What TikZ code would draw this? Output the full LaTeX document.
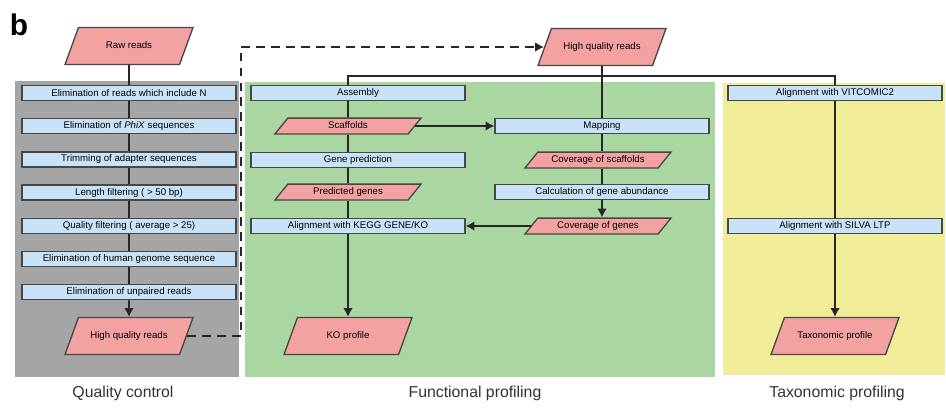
\documentclass[tikz,border=0pt]{standalone}
\usepackage{fontspec}
\setmainfont{Liberation Sans}
\usetikzlibrary{shapes.geometric,arrows.meta,positioning,calc}

\definecolor{qcgray}{HTML}{A5A5A5}
\definecolor{fpgreen}{HTML}{A9D6A1}
\definecolor{tpyellow}{HTML}{F1EC98}
\definecolor{procblue}{HTML}{C8E3F7}
\definecolor{datapink}{HTML}{F4A1A1}
\definecolor{edgegray}{HTML}{474747}

\begin{document}
\begin{tikzpicture}[x=0.02cm, y=-0.02cm,
    procbox/.style={draw=edgegray, line width=0.75pt, fill=procblue, minimum width=4.28cm,
        minimum height=0.3cm, inner sep=1pt, font=\fontsize{5.5}{6.5}\selectfont},
    datasmall/.style={trapezium, trapezium left angle=51, trapezium right angle=129,
        trapezium stretches body, draw=edgegray, line width=0.75pt, fill=datapink,
        minimum width=2.92cm, text height=4pt, text depth=1.2pt,
        inner xsep=1pt, inner ysep=1.9pt, font=\fontsize{5.5}{6.5}\selectfont},
    databig/.style={datasmall, trapezium left angle=70, trapezium right angle=110,
        minimum width=2.56cm, inner ysep=7.9pt},
    conn/.style={line width=1.1pt, black!85},
    arr/.style={conn, -{Latex[length=5pt,width=5.5pt]}},
    dashline/.style={arr, dash pattern=on 5pt off 3.5pt},
    panellabel/.style={font=\fontsize{9}{10}\selectfont, text=black!80}]

    \useasboundingbox (0,0) rectangle (946,417);

    % Panels
    \fill[qcgray] (15,81) rectangle (239,377);
    \fill[fpgreen] (245,82) rectangle (715,377);
    \fill[tpyellow] (723,83) rectangle (945,375);

    \node[font=\bfseries\fontsize{17}{17}\selectfont] (panelb) at (19,25) {b};

    % Quality control
    \node[databig] (raw) at (129,46) {Raw reads};
    \foreach \t [count=\i] in {Elimination of reads which include N,
        Elimination of \textit{PhiX} sequences, Trimming of adapter sequences,
        Length filtering ( > 50 bp), Quality filtering ( average > 25),
        Elimination of human genome sequence, Elimination of unpaired reads}
        \node[procbox] (qc\i) at (129,{93+33.2*(\i-1)}) {\t};
    \node[databig] (hqA) at (129,336) {High quality reads};

    \draw[conn] (raw.south) -- (qc1.north);
    \foreach \i/\j in {1/2,2/3,3/4,4/5,5/6,6/7}
        \draw[conn] (qc\i.south) -- (qc\j.north);
    \draw[arr] (qc7.south) -- (hqA.north);

    % Functional profiling
    \node[databig] (hqB) at (602,47) {High quality reads};
    \node[procbox] (asm) at (358,93) {Assembly};
    \node[datasmall] (scaf) at (348,126) {Scaffolds};
    \node[procbox] (gpred) at (358,160) {Gene prediction};
    \node[datasmall] (pgen) at (348,192) {Predicted genes};
    \node[procbox] (kegg) at (358,226) {Alignment with KEGG GENE/KO};
    \node[databig] (ko) at (348,336) {KO profile};

    \node[procbox] (map) at (602,126) {Mapping};
    \node[datasmall] (covs) at (598,160) {Coverage of scaffolds};
    \node[procbox] (calc) at (602,192) {Calculation of gene abundance};
    \node[datasmall] (covg) at (598,226) {Coverage of genes};

    % Taxonomic profiling
    \node[procbox] (vit) at (835,93) {Alignment with VITCOMIC2};
    \node[procbox] (silva) at (835,226) {Alignment with SILVA LTP};
    \node[databig] (taxp) at (835,336) {Taxonomic profile};

    % Connectors
    \coordinate (dashx) at (241,0);
    \coordinate (bus) at (0,76);
    \draw[dashline] (hqA.east) -- (hqA.east -| dashx) |- (hqB.west);
    \draw[conn] (hqB.south) -- (map.north);
    \draw[conn] (asm.north -| scaf) |- (vit.north |- bus) -- (vit.north);

    \draw[conn] (asm.south -| scaf) -- (scaf.north);
    \draw[conn] (scaf.south) -- (scaf.south |- gpred.north);
    \draw[conn] (gpred.south -| pgen) -- (pgen.north);
    \draw[conn] (pgen.south) -- (pgen.south |- kegg.north);
    \draw[arr] (kegg.south -| ko) -- (ko.north);
    \draw[arr] (scaf.east) -- (scaf.east -| map.west);

    \draw[conn] (map.south) -- (map.south |- covs.north);
    \draw[conn] (map.south |- covs.south) -- (calc.north);
    \draw[arr] (calc.south) -- (calc.south |- covg.north);
    \draw[arr] (covg.west) -- (covg.west -| kegg.east);

    \draw[conn] (vit.south) -- (silva.north);
    \draw[arr] (silva.south) -- (taxp.north);

    % Panel names
    \node[panellabel] (qcname) at (123,393) {Quality control};
    \node[panellabel] (fpname) at (475,393) {Functional profiling};
    \node[panellabel] (tpname) at (837,393) {Taxonomic profiling};
\end{tikzpicture}
\end{document}
